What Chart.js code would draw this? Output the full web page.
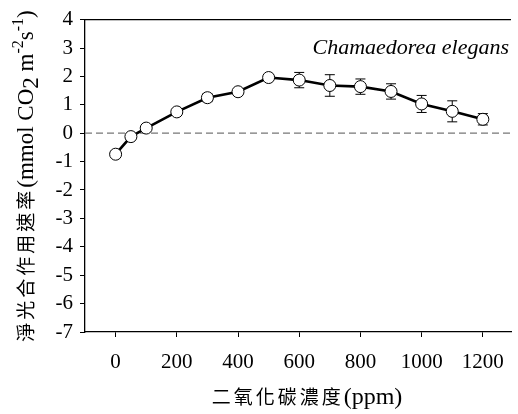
<!DOCTYPE html>
<html>
<head>
<meta charset="utf-8">
<script src="https://cdn.jsdelivr.net/npm/chart.js@4.4.1/dist/chart.umd.min.js"></script>
<style>
    html, body { margin: 0; padding: 0; background: #fff; overflow: hidden; }
    #wrap { width: 518px; height: 414px; }
</style>
</head>
<body>
<div id="wrap"><canvas id="psChart" width="518" height="414"></canvas></div>
<script>
// CO2 concentration (ppm) and net photosynthesis rate
const co2Levels = [0, 50, 100, 200, 300, 400, 500, 600, 700, 800, 900, 1000, 1100, 1200];
const netRate = [-0.74, -0.12, 0.18, 0.75, 1.25, 1.46, 1.96, 1.87, 1.68, 1.64, 1.47, 1.03, 0.77, 0.49];
const rateError = [0.05, 0.04, 0.05, 0.08, 0.14, 0.06, 0.05, 0.27, 0.38, 0.27, 0.27, 0.3, 0.37, 0.2];
const xTicks = [0, 200, 400, 600, 800, 1000, 1200];
const yTicks = [4, 3, 2, 1, 0, -1, -2, -3, -4, -5, -6, -7];

const serif = "'Liberation Serif', 'Times New Roman', 'DejaVu Serif', serif";
const cjk = "'Noto Sans CJK TC', 'Noto Sans CJK SC', sans-serif";

// draw text pieces one char at a time with extra spacing
function drawParts(ctx, parts, centerX, baseY) {
    let w = 0;
    parts.forEach(p => {
        ctx.font = p.font;
        for (const ch of p.text) w += ctx.measureText(ch).width + (p.gap || 0);
    });
    let cx = centerX - w / 2;
    parts.forEach(p => {
        ctx.font = p.font;
        for (const ch of p.text) {
            ctx.fillText(ch, cx, baseY + (p.dy || 0));
            cx += ctx.measureText(ch).width + (p.gap || 0);
        }
    });
}

// error bars, zero line, top frame line, titles
const extrasPlugin = {
    id: 'extras',
    beforeDatasetsDraw(chart) {
        const ctx = chart.ctx;
        const area = chart.chartArea;
        const x = chart.scales.x;
        const y = chart.scales.y;

        ctx.save();
        ctx.strokeStyle = '#000';
        ctx.lineWidth = 1.3;
        ctx.beginPath();
        ctx.moveTo(area.left, area.top);
        ctx.lineTo(area.right, area.top);
        ctx.stroke();

        const y0 = y.getPixelForValue(0);
        ctx.strokeStyle = '#777';
        ctx.lineWidth = 1.3;
        ctx.setLineDash([7, 4]);
        ctx.beginPath();
        ctx.moveTo(area.left, y0);
        ctx.lineTo(area.right, y0);
        ctx.stroke();
        ctx.setLineDash([]);

        ctx.strokeStyle = '#000';
        ctx.lineWidth = 1;
        co2Levels.forEach((c, i) => {
            const px = x.getPixelForValue(c);
            const top = y.getPixelForValue(netRate[i] + rateError[i]);
            const bot = y.getPixelForValue(netRate[i] - rateError[i]);
            ctx.beginPath();
            ctx.moveTo(px, top);
            ctx.lineTo(px, bot);
            ctx.moveTo(px - 5, top);
            ctx.lineTo(px + 5, top);
            ctx.moveTo(px - 5, bot);
            ctx.lineTo(px + 5, bot);
            ctx.stroke();
        });
        ctx.restore();
    },
    afterDraw(chart) {
        const ctx = chart.ctx;
        ctx.save();
        ctx.fillStyle = '#000';

        ctx.font = 'italic 22px ' + serif;
        ctx.textAlign = 'right';
        ctx.textBaseline = 'alphabetic';
        ctx.fillText('Chamaedorea elegans', 509, 54);

        ctx.textAlign = 'left';
        drawParts(ctx, [
            { text: '二氧化碳濃度', font: '19px ' + cjk, gap: 3 },
            { text: '(ppm)', font: '24px ' + serif, gap: 0 }
        ], 307, 404);

        ctx.translate(33, 176);
        ctx.rotate(-Math.PI / 2);
        drawParts(ctx, [
            { text: '淨光合作用速率', font: '19px ' + cjk, gap: 3 },
            { text: '(mmol CO', font: '23px ' + serif },
            { text: '2', font: '23px ' + serif, dy: 5 },
            { text: ' m', font: '23px ' + serif },
            { text: '-2', font: '16px ' + serif, dy: -10 },
            { text: 's', font: '23px ' + serif },
            { text: '-1', font: '16px ' + serif, dy: -10 },
            { text: ')', font: '23px ' + serif }
        ], 0, 0);
        ctx.restore();
    }
};

function drawChart() {
    new Chart(document.getElementById('psChart').getContext('2d'), {
        type: 'scatter',
        data: {
            datasets: [{
                data: co2Levels.map((c, i) => ({ x: c, y: netRate[i] })),
                showLine: true,
                borderColor: '#000',
                borderWidth: 2.6,
                pointRadius: 6,
                pointBackgroundColor: '#fff',
                pointBorderColor: '#000',
                pointBorderWidth: 1,
                tension: 0
            }]
        },
        options: {
            responsive: false,
            animation: false,
            devicePixelRatio: 1,
            layout: { padding: { top: 18, right: 0, left: 0, bottom: 0 } },
            plugins: { legend: { display: false }, tooltip: { enabled: false } },
            scales: {
                x: {
                    type: 'linear',
                    min: -100,
                    max: 1292,
                    afterBuildTicks: axis => { axis.ticks = xTicks.map(v => ({ value: v })); },
                    afterFit: axis => { axis.height = 82; },
                    grid: { drawOnChartArea: false, drawTicks: true, tickLength: 5, color: '#000', lineWidth: 1 },
                    border: { color: '#000', width: 1.3 },
                    ticks: {
                        color: '#000',
                        font: { family: serif, size: 21 },
                        padding: 13,
                        maxRotation: 0,
                        callback: v => String(v)
                    }
                },
                y: {
                    type: 'linear',
                    min: -7,
                    max: 4,
                    afterBuildTicks: axis => { axis.ticks = yTicks.map(v => ({ value: v })); },
                    afterFit: axis => { axis.width = 85; },
                    grid: { drawOnChartArea: false, drawTicks: true, tickLength: 5, color: '#000', lineWidth: 1 },
                    border: { color: '#000', width: 1.3 },
                    ticks: { color: '#000', font: { family: serif, size: 21 }, padding: 7, callback: v => String(v) }
                }
            }
        },
        plugins: [extrasPlugin]
    });
}

Promise.all([
    document.fonts.load('20px "Liberation Serif"'),
    document.fonts.load('italic 20px "Liberation Serif"'),
    document.fonts.load('19px "Noto Sans CJK TC"', '淨光合')
]).catch(() => {}).then(drawChart);
</script>
</body>
</html>
